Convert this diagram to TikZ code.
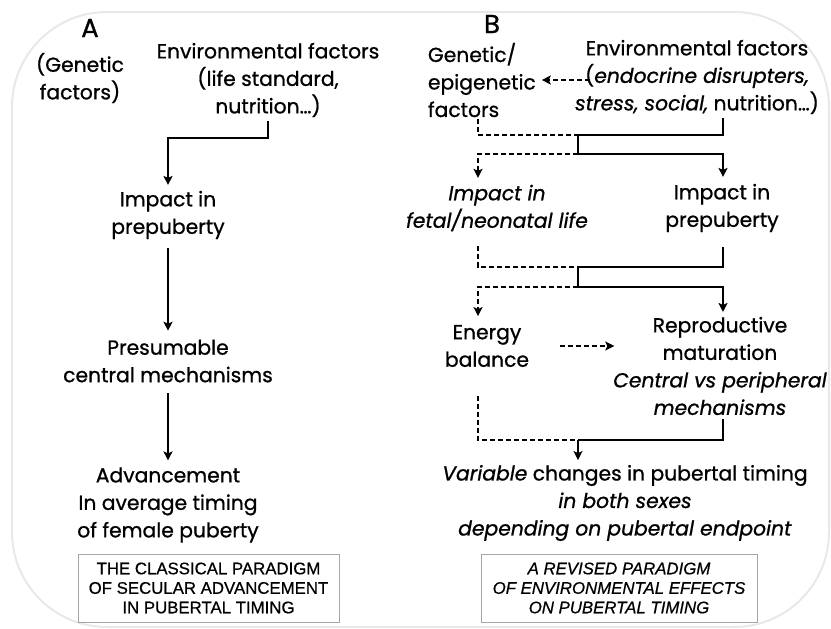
\documentclass[tikz,border=0pt]{standalone}
\usepackage{fontspec}
\setmainfont{Poppins}[FakeBold=0.9]
\newfontfamily\boxfont{Liberation Sans}[FakeBold=0.6]
\usetikzlibrary{arrows.meta,positioning}

\begin{document}
\begin{tikzpicture}[x=1pt, y=-1pt, >={Stealth[length=9pt,width=9pt,inset=2pt]}, line width=1.9pt,
		txt/.style={
			align=center,
			inner sep=0pt,
			font=\fontsize{20.3}{27.5}\selectfont
		},
		paradigm/.style={
			draw=gray!70,
			line width=0.8pt,
			align=center,
			inner sep=2pt,
			minimum height=68pt,
			font=\boxfont\fontsize{16.8}{19.5}\selectfont
		},
		dashline/.style={dash pattern=on 5pt off 3pt}
	]
	\useasboundingbox (0,0) rectangle (831,629);
	\draw[gray!18, line width=2pt, rounded corners=95pt] (12,12) rectangle (829,627);

	% panel A
	\node[txt, font=\fontsize{26}{26}\selectfont] (labA) at (90,28) {A};
	\node[txt] (genA) at (80,78) {(Genetic\\factors)};
	\node[txt] (envA) at (268,80) {Environmental factors\\(life standard,\\nutrition\ldots)};
	\node[txt] (impA) at (168,215) {Impact in\\prepuberty};
	\node[txt] (mechA) at (168,361) {Presumable\\central mechanisms};
	\node[txt] (advA) at (168,505) {Advancement\\In average timing\\of female puberty};
	\node[paradigm, minimum width=261pt] (boxA) at (208.5,588) {THE CLASSICAL PARADIGM\\OF SECULAR ADVANCEMENT\\IN PUBERTAL TIMING};

	\draw[->] ([yshift=-3pt]envA.south) -- ++(0,17) -| ([yshift=5pt]impA.north);
	\draw[->] ([yshift=-8pt]impA.south) -- ([yshift=8pt]mechA.north);
	\draw[->] ([yshift=-10pt]mechA.south) -- ([yshift=6pt]advA.north);

	% panel B
	\node[txt, font=\fontsize{26}{26}\selectfont] (labB) at (492,24) {B};
	\node[txt, align=left, anchor=west] (genB) at (427,80) {Genetic/\\epigenetic\\factors};
	\node[txt] (envB) at (697,77) {Environmental factors\\(\textit{endocrine disrupters,}\\\textit{stress, social,} nutrition\ldots)};
	\node[txt] (impBl) at (497,208) {\textit{Impact in}\\\textit{fetal/neonatal life}};
	\node[txt] (impBr) at (722,208) {Impact in\\prepuberty};
	\node[txt] (enB) at (487,346) {Energy\\balance};
	\node[txt] (repB) at (720,366) {Reproductive\\maturation\\\textit{Central vs peripheral}\\\textit{mechanisms}};
	\node[txt] (varB) at (625,503) {\textit{Variable} changes in pubertal timing\\\textit{in both sexes}\\\textit{depending on pubertal endpoint}};
	\node[paradigm, minimum width=276pt, font=\boxfont\itshape\fontsize{16.8}{19.5}\selectfont] (boxB) at (619,588) {A REVISED PARADIGM\\OF ENVIRONMENTAL EFFECTS\\ON PUBERTAL TIMING};

	\coordinate (colL) at (478,0);
	\coordinate (colR) at (723,0);
	\coordinate (mrg1) at (578,135);
	\coordinate (spl1) at (578,154);
	\coordinate (mrg2) at (578,267);
	\coordinate (spl2) at (578,287);
	\coordinate (mrg3) at (578,440);

	\draw[->, dashline] ([xshift=16pt]envB.west |- genB.east) -- ([xshift=5pt]genB.east);

	% first split
	\draw[dashline] ([yshift=-1pt]genB.south -| colL) |- (mrg1);
	\draw ([yshift=-3pt]envB.south -| colR) |- (mrg1) -- (spl1);
	\draw[->, dashline] (spl1) -| ([yshift=6pt]impBl.north -| colL);
	\draw[->] (spl1) -| ([yshift=6pt]impBr.north -| colR);

	% second split
	\draw[dashline] ([yshift=-14pt]impBl.south -| colL) |- (mrg2);
	\draw ([yshift=-14pt]impBr.south -| colR) |- (mrg2) -- (spl2);
	\draw[->, dashline] (spl2) -| ([yshift=8pt]enB.north -| colL);
	\draw[->] (spl2) -| ([yshift=4pt]repB.north -| colR);

	\draw[->, dashline] ([xshift=30pt]enB.east) -- ([xshift=2pt]repB.west |- enB.east);

	% merge
	\draw[dashline] ([yshift=-28pt]enB.south -| colL) |- (mrg3);
	\draw ([yshift=-3pt]repB.south -| colR) |- (mrg3);
	\draw[->] (mrg3) -- ([yshift=4pt]varB.north -| mrg3);
\end{tikzpicture}
\end{document}
